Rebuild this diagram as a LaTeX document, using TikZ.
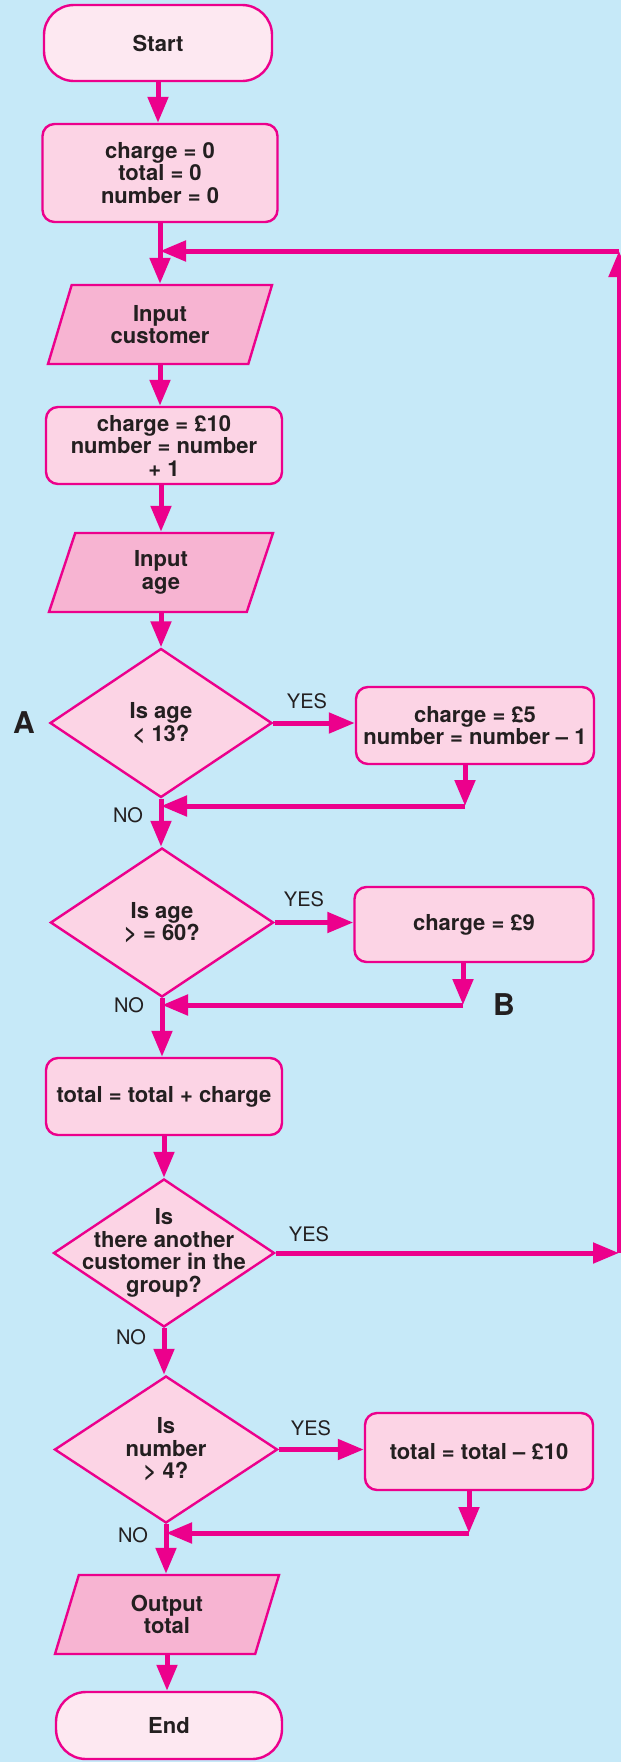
\documentclass[tikz,border=0pt]{standalone}
\usepackage{fontspec}
\setmainfont{TeX Gyre Heros}
\usetikzlibrary{arrows.meta,calc,shapes.geometric}

\definecolor{mag}{HTML}{EC008C}
\definecolor{bgblue}{HTML}{C6E9F8}
\definecolor{termfill}{HTML}{FDE8F1}
\definecolor{procfill}{HTML}{FCD4E5}
\definecolor{iofill}{HTML}{F7B4D2}
\definecolor{ink}{HTML}{231F20}

\tikzset{
    base/.style={draw=mag, line width=1.2pt, text=ink, align=center, inner sep=1pt,
        font=\fontsize{11}{11.25}\selectfont\bfseries},
    term/.style={base, fill=termfill, rounded corners=15pt},
    proc/.style={base, fill=procfill, rounded corners=6pt},
    io/.style={base, fill=iofill, trapezium, trapezium left angle=61, trapezium right angle=119,
        trapezium stretches body},
    decision/.style={base, fill=procfill, diamond, inner sep=0pt},
    qtext/.style={text=ink, align=center, font=\fontsize{11}{11.25}\selectfont\bfseries},
    flow/.style={draw=mag, line width=2.5pt, ->},
    ans/.style={text=ink, font=\fontsize{10}{12}\selectfont},
    letterlbl/.style={text=ink, font=\fontsize{15}{18}\selectfont\bfseries},
}

\begin{document}
\begin{tikzpicture}[x=0.5pt,y=-0.5pt,>={Triangle[length=13pt,width=10pt]}]
    \fill[bgblue] (0,0) rectangle (621,1762);
    \useasboundingbox (0,0) rectangle (621,1762);

    % main column
    \node[term, minimum width=114pt, minimum height=38pt] (start) at (158,43) {Start};
    \node[proc, minimum width=117.5pt, minimum height=49pt] (init) at (160,173) {charge = 0\\total = 0\\number = 0};
    \node[io, minimum width=112pt, minimum height=39.5pt] (incust) at (160,324.5) {Input\\customer};
    \node[proc, minimum width=118pt, minimum height=38.5pt] (setch) at (164,445.5) {charge = £10\\number = number\\+ 1};
    \node[io, minimum width=112pt, minimum height=39.5pt] (inage) at (161,572.5) {Input\\age};
    \node[decision, minimum width=111pt, minimum height=74.5pt,
        label={[qtext]center:Is age\\< 13?}] (q1) at (161,723) {};
    \node[decision, minimum width=111.5pt, minimum height=74.5pt,
        label={[qtext]center:Is age\\> = 60?}] (q2) at (162,922.5) {};
    \node[proc, minimum width=118pt, minimum height=38.5pt] (addch) at (164,1096.5) {total = total + charge};
    \node[decision, minimum width=110.5pt, minimum height=74pt,
        label={[qtext]center:Is\\there another\\customer in the\\group?}] (q3) at (164,1253) {};
    \node[decision, minimum width=111.5pt, minimum height=73.5pt,
        label={[qtext]center:Is\\number\\> 4?}] (q4) at (166,1449.5) {};
    \node[io, minimum width=112pt, minimum height=39.5pt] (outtot) at (167,1614.5) {Output\\total};
    \node[term, minimum width=113pt, minimum height=33.5pt] (stop) at (169,1725.5) {End};

    % side boxes
    \node[proc, minimum width=119pt, minimum height=38.5pt] (ch5) at (475,725.5) {charge = £5\\number = number – 1};
    \node[proc, minimum width=119.5pt, minimum height=37.5pt] (ch9) at (474,924.5) {charge = £9};
    \node[proc, minimum width=114pt, minimum height=38.5pt] (sub10) at (479,1451.5) {total = total – £10};

    % joins
    \coordinate (j1) at (465,806);
    \coordinate (j2) at (463,1005);
    \coordinate (j3) at (469,1533);
    \coordinate (lp1) at (619,1253);
    \coordinate (lp2) at (619,251);

    % trunk
    \draw[flow] (start.south) -- (start.south |- init.north);
    \draw[flow] (init.south) -- (init.south |- incust.north);
    \draw[flow] (incust.south) -- (incust.south |- setch.north);
    \draw[flow] (setch.south -| inage.north) -- (inage.north);
    \draw[flow] (inage.south) -- (inage.south |- q1.north);
    \draw[flow] (q1.south) -- (q1.south |- q2.north);
    \draw[flow] (q2.south) -- (q2.south |- addch.north);
    \draw[flow] (addch.south -| q3.north) -- (q3.north);
    \draw[flow] (q3.south) -- (q3.south |- q4.north);
    \draw[flow] (q4.south) -- (q4.south |- outtot.north);
    \draw[flow] (outtot.south) -- (outtot.south |- stop.north);

    % yes branches
    \draw[flow] (q1.east) -- (ch5.west |- q1.east);
    \draw[flow] (ch5.south -| j1) -- (j1);
    \draw[flow] (j1) -- (q1.south |- j1);
    \draw[flow] (q2.east) -- (ch9.west |- q2.east);
    \draw[flow] (ch9.south -| j2) -- (j2);
    \draw[flow] (j2) -- (q2.south |- j2);
    \draw[flow] (q4.east) -- (sub10.west |- q4.east);
    \draw[flow] (sub10.south -| j3) -- (j3);
    \draw[flow] (j3) -- (q4.south |- j3);

    % loop back
    \draw[flow] (q3.east) -- (lp1);
    \draw[flow] (lp1) -- (lp2);
    \draw[flow] (lp2) -- (init.south |- lp2);

    % labels
    \node[ans] (yes1) at (307,701) {YES};
    \node[ans] (yes2) at (304,899) {YES};
    \node[ans] (yes3) at (309,1234) {YES};
    \node[ans] (yes4) at (311,1428) {YES};
    \node[ans] (no1) at (128,815) {NO};
    \node[ans] (no2) at (129,1005) {NO};
    \node[ans] (no3) at (131,1337) {NO};
    \node[ans] (no4) at (133,1535) {NO};
    \node[letterlbl] (lblA) at (24,723) {A};
    \node[letterlbl] (lblB) at (504,1005) {B};
\end{tikzpicture}
\end{document}
